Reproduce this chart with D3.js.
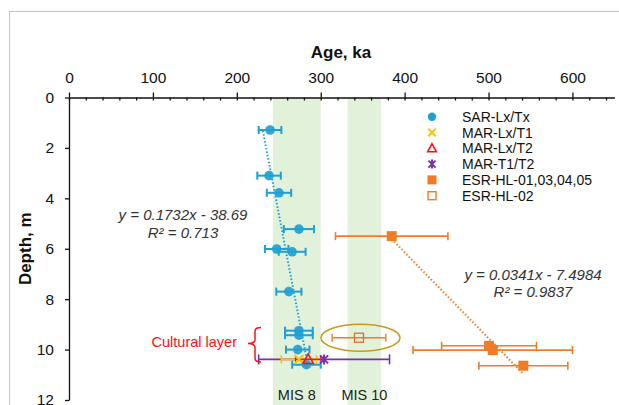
<!DOCTYPE html>
<html><head><meta charset="utf-8">
<script src="https://cdn.jsdelivr.net/npm/d3@7"></script>
<style>body{margin:0;background:#fff}svg{display:block;font-family:"Liberation Sans",Arial,sans-serif}</style>
</head><body><svg id="c" width="619" height="405"></svg>
<script>
// ---- data ----
const xTicks = [0,100,200,300,400,500,600];
const yTicks = [0,2,4,6,8,10,12];
const sarAge   = [239.6,238.4,250.3,274,247.5,266,262,274,274,272.6,283];
const sarDepth = [1.29,3.10,3.78,5.22,6.01,6.12,7.70,9.25,9.43,10.0,10.6];
const sarErr   = [13.5,14,14.5,18,14,16,15,16.5,16.5,14,17];
const marT1 = {age:274, depth:10.39, err:21};
const marT2 = {age:285, depth:10.39, err:15};
const marT1T2 = {age:304, depth:10.39, err:78};
const esrAge   = [384.6,500.6,505,541.5];
const esrDepth = [5.5,9.85,10.02,10.64];
const esrErr   = [67,56.5,95,53];
const esr02 = {age:345.6, depth:9.53, err:32};
const mis = [{name:"MIS 8", from:243, to:300},{name:"MIS 10", from:332, to:372}];
const trendSar = {slope:0.1732, intercept:-38.69, xFrom:231, xTo:283, label:"y = 0.1732x - 38.69", r2:"R² = 0.713"};
const trendEsr = {slope:0.0341, intercept:-7.4984, xFrom:384.6, xTo:541.5, label:"y = 0.0341x - 7.4984", r2:"R² = 0.9837"};
const legendLabels = ["SAR-Lx/Tx","MAR-Lx/T1","MAR-Lx/T2","MAR-T1/T2","ESR-HL-01,03,04,05","ESR-HL-02"];

// ---- drawing ----
const svg = d3.select("#c");
const x = d3.scaleLinear().domain([0,650]).range([69,614.4]);
const y = d3.scaleLinear().domain([0,12]).range([97.5,400]);
const BLUE="#1f9fd4", ORANGE="#f07c26", YEL="#ffc000", RED="#ff1010", PURP="#7a30a8";

// frame
svg.append("rect").attr("x",9.5).attr("y",11.5).attr("width",640).attr("height",420)
  .attr("fill","none").attr("stroke","#c4c4c4").attr("stroke-width",1);

// MIS bands
svg.selectAll(".band").data(mis).join("rect")
  .attr("x",d=>x(d.from)).attr("width",d=>x(d.to)-x(d.from))
  .attr("y",y(0)).attr("height",410-y(0)).attr("fill","#e2f1da");
svg.selectAll(".mislab").data(mis).join("text")
  .attr("x",d=>(x(d.from)+x(d.to))/2).attr("y",400).attr("text-anchor","middle")
  .attr("font-size",14.5).attr("fill","#222").text(d=>d.name);

// axes
const gx = svg.append("g").attr("transform",`translate(0,${y(0)})`)
  .call(d3.axisTop(x).tickValues(xTicks).tickSizeInner(5).tickSizeOuter(0).tickPadding(9.5));
gx.selectAll("text").attr("font-size",15.5).attr("fill","#111").attr("font-family","Liberation Sans, Arial, sans-serif");
const gxm = svg.append("g").attr("transform",`translate(0,${y(0)})`)
  .call(d3.axisBottom(x).tickValues(d3.range(0,651,20)).tickSize(3).tickFormat(""));
gxm.select(".domain").remove();
const gy = svg.append("g").attr("transform",`translate(${x(0)},0)`)
  .call(d3.axisLeft(y).tickValues(yTicks).tickSizeInner(4).tickSizeOuter(0).tickPadding(11));
gy.selectAll("text").attr("font-size",15.5).attr("fill","#111").attr("font-family","Liberation Sans, Arial, sans-serif");
svg.selectAll(".domain, .tick line").attr("stroke","#111").attr("stroke-width",1.3);

svg.append("text").attr("x",341).attr("y",58).attr("text-anchor","middle")
  .attr("font-size",17).attr("font-weight","bold").attr("fill","#111").text("Age, ka");
svg.append("text").attr("transform",`translate(31,${(y(0)+y(12))/2}) rotate(-90)`)
  .attr("text-anchor","middle").attr("font-size",17).attr("font-weight","bold").attr("fill","#111").text("Depth, m");

// trend lines
function trend(t,color){
  svg.append("line").attr("x1",x(t.xFrom)).attr("y1",y(t.slope*t.xFrom+t.intercept))
    .attr("x2",x(t.xTo)).attr("y2",y(t.slope*t.xTo+t.intercept))
    .attr("stroke",color).attr("stroke-width",2).attr("stroke-dasharray","1.5,2");
}
trend(trendSar,BLUE);
trend(trendEsr,ORANGE);

// error bar helper
function errbar(age,depth,err,color,cap,sw){
  const g=svg.append("g").attr("stroke",color).attr("stroke-width",sw).attr("fill","none");
  g.append("line").attr("x1",x(age-err)).attr("x2",x(age+err)).attr("y1",y(depth)).attr("y2",y(depth));
  g.append("line").attr("x1",x(age-err)).attr("x2",x(age-err)).attr("y1",y(depth)-cap/2).attr("y2",y(depth)+cap/2);
  g.append("line").attr("x1",x(age+err)).attr("x2",x(age+err)).attr("y1",y(depth)-cap/2).attr("y2",y(depth)+cap/2);
}

// MAR-T1/T2 error bar (behind)
errbar(marT1T2.age,marT1T2.depth,marT1T2.err,PURP,10,1.6);
errbar(marT1.age,marT1.depth,marT1.err,YEL,8,1.6);
errbar(marT2.age,marT2.depth,marT2.err,RED,8,1.2);

// SAR
sarAge.forEach((a,i)=>errbar(a,sarDepth[i],sarErr[i],BLUE,8,2));
svg.selectAll(".sar").data(sarAge).join("circle")
  .attr("cx",d=>x(d)).attr("cy",(d,i)=>y(sarDepth[i])).attr("r",4.8)
  .attr("fill",BLUE).attr("fill-opacity",0.92);

// ESR
esrAge.forEach((a,i)=>errbar(a,esrDepth[i],esrErr[i],ORANGE,8,1.6));
errbar(esr02.age,esr02.depth,esr02.err,ORANGE,8,1.4);
svg.selectAll(".esr").data(esrAge).join("rect")
  .attr("x",d=>x(d)-5).attr("y",(d,i)=>y(esrDepth[i])-5).attr("width",10).attr("height",10)
  .attr("fill",ORANGE);
svg.append("rect").attr("x",x(esr02.age)-4.5).attr("y",y(esr02.depth)-4.5).attr("width",9).attr("height",9)
  .attr("fill","#fff").attr("fill-opacity",0).attr("stroke","#d9702e").attr("stroke-width",1.3);
svg.append("ellipse").attr("cx",x(esr02.age)+1.5).attr("cy",y(esr02.depth)).attr("rx",39.5).attr("ry",13.5)
  .attr("fill","none").attr("stroke","#c99a1a").attr("stroke-width",1.5);

// marker shapes
function xMark(g,cx,cy,s,color,w){
  g.append("path").attr("d",`M${cx-s},${cy-s}L${cx+s},${cy+s}M${cx-s},${cy+s}L${cx+s},${cy-s}`)
   .attr("stroke",color).attr("stroke-width",w).attr("fill","none");
}
function triMark(g,cx,cy,s,color){
  g.append("path").attr("d",`M${cx},${cy-s}L${cx+s*0.95},${cy+s*0.75}L${cx-s*0.95},${cy+s*0.75}Z`)
   .attr("stroke",color).attr("stroke-width",1.6).attr("fill","none");
}
function starMark(g,cx,cy,s,color){
  g.append("path").attr("d",`M${cx-s},${cy-s}L${cx+s},${cy+s}M${cx-s},${cy+s}L${cx+s},${cy-s}M${cx},${cy-s-1}L${cx},${cy+s+1}`)
   .attr("stroke",color).attr("stroke-width",2).attr("fill","none");
}
xMark(svg,x(marT1.age),y(marT1.depth),4.5,YEL,2);
triMark(svg,x(marT2.age),y(marT2.depth),5.5,RED);
starMark(svg,x(marT1T2.age),y(marT1T2.depth),4,PURP);

// equations
function eq(t,cx,by){
  svg.append("text").attr("x",cx).attr("y",by).attr("text-anchor","middle").attr("font-style","italic")
    .attr("font-size",15).attr("fill","#333").text(t.label);
  svg.append("text").attr("x",cx).attr("y",by+17.5).attr("text-anchor","middle").attr("font-style","italic")
    .attr("font-size",15).attr("fill","#333").text(t.r2);
}
eq(trendSar,183,220);
eq(trendEsr,533,279.5);

// cultural layer brace
svg.append("path").attr("d","M261,327.5 Q255,327.5 255,331 L255,340 Q255,343 248,343.5 Q255,344 255,347 L255,358.5 Q255,362 261,362")
  .attr("fill","none").attr("stroke",RED).attr("stroke-width",1.5);
svg.append("text").attr("x",237).attr("y",347).attr("text-anchor","end").attr("font-size",14.5)
  .attr("fill",RED).text("Cultural layer");

// legend
const lx=432, ltx=462, ly0=116.7, ldy=15.8;
const lg=svg.append("g");
legendLabels.forEach((t,i)=>{
  const cy=ly0+i*ldy;
  lg.append("text").attr("x",ltx).attr("y",cy+5).attr("font-size",14).attr("fill","#111").text(t);
  if(i===0) lg.append("circle").attr("cx",lx).attr("cy",cy).attr("r",4.2).attr("fill",BLUE);
  if(i===1) xMark(lg,lx,cy,3.8,YEL,2);
  if(i===2) triMark(lg,lx,cy,4.5,RED);
  if(i===3) starMark(lg,lx,cy,3.5,PURP);
  if(i===4) lg.append("rect").attr("x",lx-4.5).attr("y",cy-4.5).attr("width",9).attr("height",9).attr("fill",ORANGE);
  if(i===5) lg.append("rect").attr("x",lx-4).attr("y",cy-4).attr("width",8).attr("height",8).attr("fill","none").attr("stroke",ORANGE).attr("stroke-width",1.4);
});
</script></body></html>
